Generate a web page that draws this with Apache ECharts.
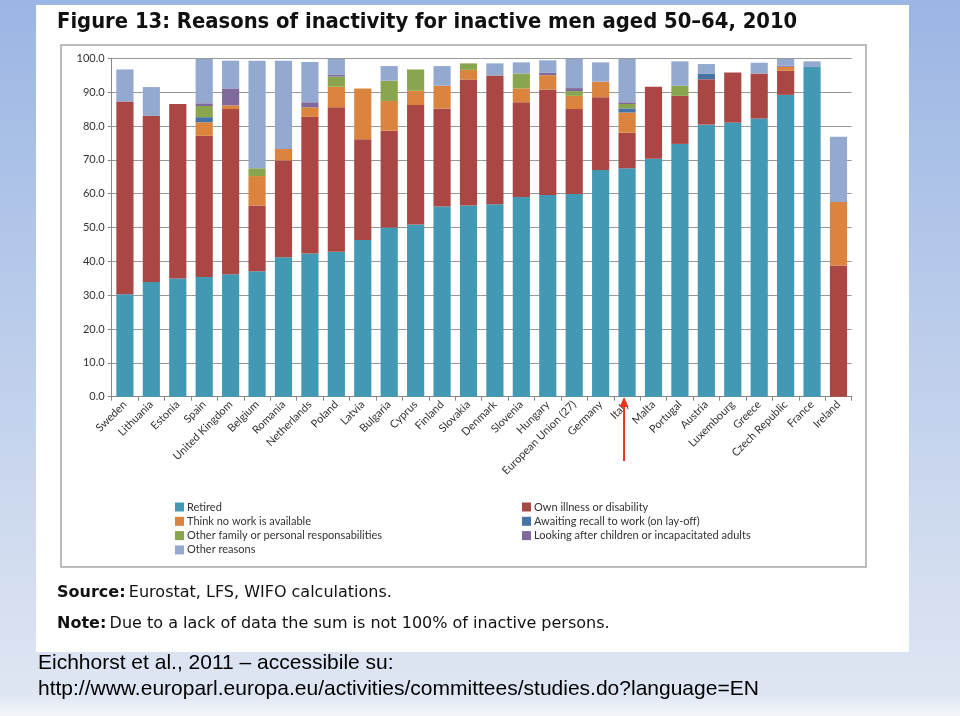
<!DOCTYPE html>
<html>
<head>
<meta charset="utf-8">
<script src="https://cdn.jsdelivr.net/npm/echarts@6/dist/echarts.min.js"></script>
<style>
html,body{margin:0;padding:0;}
#c{width:960px;height:716px;}
</style>
</head>
<body>
<div id="c"></div>
<script>
const categories = ["Sweden","Lithuania","Estonia","Spain","United Kingdom","Belgium","Romania","Netherlands","Poland","Latvia","Bulgaria","Cyprus","Finland","Slovakia","Denmark","Slovenia","Hungary","European Union (27)","Germany","Italy","Malta","Portugal","Austria","Luxembourg","Greece","Czech Republic","France","Ireland"];

const retired      = [30.3,33.9,34.9,35.4,36.2,37.1,41.2,42.3,42.8,46.3,50.0,50.9,56.2,56.5,56.9,59.0,59.6,59.9,67.0,67.5,70.3,74.7,80.4,81.0,82.2,89.2,97.4,0];
const ownIllness   = [56.9,49.1,51.6,41.7,48.8,19.4,28.6,40.4,42.7,29.8,28.6,35.3,29.0,37.2,38.0,28.0,31.2,25.1,21.5,10.5,21.3,14.2,13.4,14.8,13.3,7.1,0,38.8];
const thinkNoWork  = [0,0,0,4.0,1.1,8.7,3.4,2.8,6.1,15.0,8.8,4.2,6.7,2.9,0,4.1,4.2,3.9,4.6,6.0,0,0,0,0,0,1.2,0,18.7];
const awaitRecall  = [0,0,0,1.5,0,0,0,0,0,0,0,0,0,0,0,0,0,0,0,1.2,0,0,1.7,0,0,0,0,0];
const otherFamily  = [0,0,0,3.3,0,2.3,0,0,3.0,0,6.0,6.3,0,1.9,0,4.4,0,1.4,0,1.3,0,3.0,0,0,0,0,0,0];
const lookingAfter = [0,0,0,0.8,5.0,0,0,1.5,0.5,0,0,0,0,0,0,0,0.7,0.9,0,0.5,0,0,0,0,0,0.3,0,0];
const otherReasons = [9.5,8.5,0,13.1,8.2,31.8,26.1,11.9,4.7,0,4.3,0,5.8,0,3.6,3.3,3.7,8.6,5.7,12.8,0,7.2,2.8,0,3.2,2.0,1.7,19.3];

const yTicks = [0,10,20,30,40,50,60,70,80,90,100];

const seriesDefs = [
  {name:"Retired", data:retired, color:"#4299B3"},
  {name:"Own illness or disability", data:ownIllness, color:"#AA4643"},
  {name:"Think no work is available", data:thinkNoWork, color:"#DB843D"},
  {name:"Awaiting recall to work (on lay-off)", data:awaitRecall, color:"#4572A7"},
  {name:"Other family or personal responsabilities", data:otherFamily, color:"#89A54E"},
  {name:"Looking after children or incapacitated adults", data:lookingAfter, color:"#80699B"},
  {name:"Other reasons", data:otherReasons, color:"#93A9CF"}
];

const chart = echarts.init(document.getElementById('c'));
const lblFont = 'Lato, "Open Sans", sans-serif';

const option = {
  animation:false,
  backgroundColor:'transparent',
  grid:{left:111.7, right:108.3, top:58.3, bottom:319.3, containLabel:false},
  xAxis:{
    type:'category', data:categories,
    axisLine:{lineStyle:{color:'#888', width:1}},
    axisTick:{show:true, length:4, lineStyle:{color:'#888'}},
    axisLabel:{rotate:45, interval:0, fontSize:11, color:'#333', fontFamily:lblFont, margin:6}
  },
  yAxis:{
    type:'value', min:yTicks[0], max:yTicks[yTicks.length-1], interval:10,
    axisLine:{show:true, lineStyle:{color:'#888'}},
    axisTick:{show:true, length:4, lineStyle:{color:'#888'}},
    axisLabel:{fontSize:11, color:'#333', fontFamily:lblFont, margin:7, formatter:v=>v.toFixed(1)},
    splitLine:{lineStyle:{color:'#999', width:1}}
  },
  legend:[
    {orient:'vertical', left:175, top:501.5, padding:0, itemWidth:9, itemHeight:9, itemGap:3.3,
     icon:'rect', textStyle:{fontSize:11, color:'#333', fontFamily:lblFont, padding:[0,0,0,-2]},
     data:["Retired","Think no work is available","Other family or personal responsabilities","Other reasons"]},
    {orient:'vertical', left:522, top:501.5, padding:0, itemWidth:9, itemHeight:9, itemGap:3.3,
     icon:'rect', textStyle:{fontSize:11, color:'#333', fontFamily:lblFont, padding:[0,0,0,-2]},
     data:["Own illness or disability","Awaiting recall to work (on lay-off)","Looking after children or incapacitated adults"]}
  ],
  series: seriesDefs.map(s=>({
    name:s.name, type:'bar', stack:'total', data:s.data,
    barCategoryGap:'35%', itemStyle:{color:s.color}
  })),
  graphic:[]
};
chart.setOption(option);

const it = chart.convertToPixel({xAxisIndex:0}, "Italy");
const richSty = {b:{fontWeight:'bold', fontSize:16, fontFamily:'"DejaVu Sans", sans-serif', fill:'#111'}, n:{fontSize:16, fontFamily:'"DejaVu Sans", sans-serif', fill:'#111'}};
const g = [
  {type:'rect', z:-10, shape:{x:0,y:0,width:960,height:716},
   style:{fill:new echarts.graphic.LinearGradient(0,0,0,1,[{offset:0,color:'#9bb6e4'},{offset:0.97,color:'#dfe6f3'},{offset:1,color:'#f4f6fb'}])}},
  {type:'rect', z:-9, shape:{x:36,y:5,width:873,height:647}, style:{fill:'#ffffff'}},
  {type:'rect', z:-8, shape:{x:61,y:45,width:805,height:522}, style:{fill:'none', stroke:'#a6a6a6', lineWidth:1.5}},
  {type:'text', z:5, left:57, top:11, style:{text:'Figure 13: Reasons of inactivity for inactive men aged 50–64, 2010', font:'bold 21.8px "DejaVu Sans Condensed", "DejaVu Sans", sans-serif', fill:'#111'}},
  {type:'text', z:5, left:57, top:585, style:{rich:richSty, text:'{b|Source:} {n|Eurostat, LFS, WIFO calculations.}'}},
  {type:'text', z:5, left:57, top:616, style:{rich:richSty, text:'{b|Note:} {n|Due to a lack of data the sum is not 100% of inactive persons.}'}},
  {type:'text', z:5, left:38, top:653, style:{text:'Eichhorst et al., 2011 – accessibile su:', font:'21px "Liberation Sans", Arial, sans-serif', fill:'#000'}},
  {type:'text', z:5, left:38, top:679, style:{text:'http://www.europarl.europa.eu/activities/committees/studies.do?language=EN', font:'21px "Liberation Sans", Arial, sans-serif', fill:'#000'}},
  {type:'line', z:20, shape:{x1:it-3, y1:461, x2:it-3, y2:404}, style:{stroke:'#e8321e', lineWidth:2}},
  {type:'polygon', z:20, shape:{points:[[it-3,397],[it-7.5,407],[it+1.5,407]]}, style:{fill:'#e8321e'}}
];
chart.setOption({graphic:g});
</script>
</body>
</html>
